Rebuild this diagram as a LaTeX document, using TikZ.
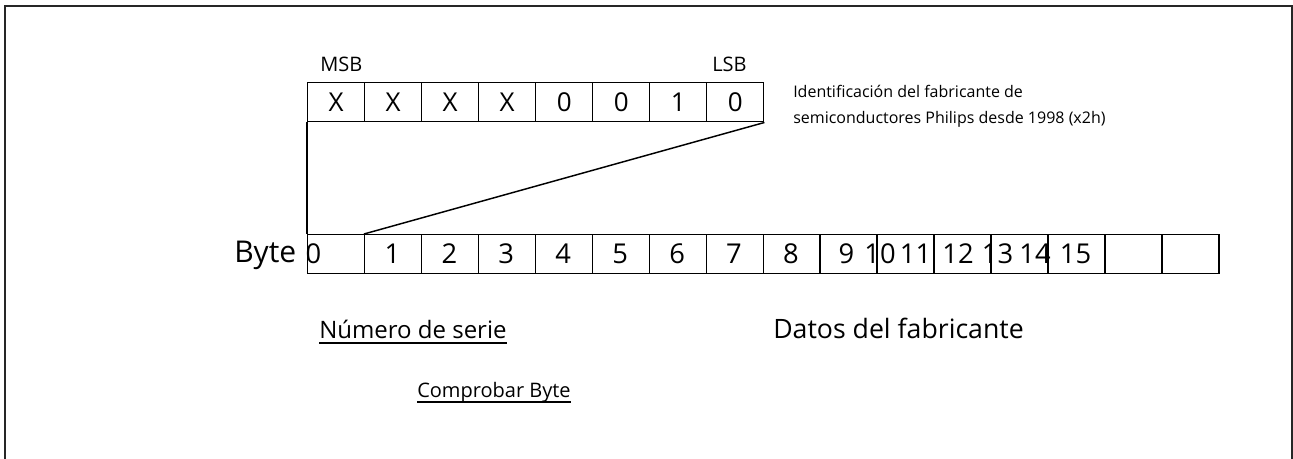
\documentclass[tikz,border=0pt]{standalone}
\usepackage{fontspec}
\setmainfont{Open Sans}
\begin{document}
\begin{tikzpicture}[x=0.75pt,y=-0.75pt,
  cellline/.style={line width=1.1pt},
  bitcell/.style={draw, cellline, rectangle, inner sep=0pt, anchor=north west,
    minimum width=42.75pt, minimum height=29.25pt,
    font=\fontsize{19.5}{20}\selectfont},
  bytecell/.style={draw, cellline, rectangle, inner sep=0pt, anchor=north west,
    minimum width=42.7pt, minimum height=29.25pt},
  bytenum/.style={inner sep=0pt, anchor=base, font=\fontsize{20.5}{22}\selectfont},
  lbl/.style={inner sep=0pt, anchor=base west},
  uline/.style={line width=1.1pt}]
\useasboundingbox (0,0) rectangle (1293,458);
\clip (0,0) rectangle (1293,458);

% outer frame (runs past the lower edge)
\draw[line width=1pt, black!85] (5,6) rectangle (1292,480);

% bit field of the identification byte
\foreach \v [count=\k from 0] in {X,X,X,X,0,0,1,0}
  \node[bitcell] (b\k) at ({307+57*\k},82) {\v};

\node[lbl, font=\fontsize{15}{16}\selectfont] (msb) at (320,71) {MSB};
\node[lbl, font=\fontsize{15}{16}\selectfont] (lsb) at (712,71) {LSB};

\node[lbl, font=\fontsize{12}{13}\selectfont] (id1) at (793,97)
  {Identificación del fabricante de};
\node[lbl, font=\fontsize{12}{13}\selectfont] (id2) at (793,123)
  {semiconductores Philips desde 1998 (x2h)};

% byte row
\foreach \k in {0,...,15}
  \node[bytecell] (c\k) at ({307+56.94*\k},234) {};

\foreach \x [count=\k from 0] in {313.5,392.4,449.4,506.3,563.2,620.2,677.1,734,791,846.5,880,915.5,958,997.5,1035,1075.5}
  \node[bytenum] (n\k) at (\x,263.5) {\k};

\node[lbl, font=\fontsize{22.5}{24}\selectfont] (byte) at (234,262) {Byte};

% connectors from the bit field to the byte row
\draw[cellline] (b0.south west) -- (c0.north west);
\draw[cellline] (b7.south east) -- (c1.north west);

% captions
\node[lbl, font=\fontsize{18}{19}\selectfont] (serie) at (319,338) {Número de serie};
\draw[uline] ([yshift=-3.8pt]serie.base west) -- ([yshift=-3.8pt]serie.base east);

\node[lbl, font=\fontsize{15}{16}\selectfont] (check) at (417,397) {Comprobar Byte};
\draw[uline] ([yshift=-3.8pt]check.base west) -- ([yshift=-3.8pt]check.base east);

\node[lbl, font=\fontsize{20}{21}\selectfont] (datos) at (773,338) {Datos del fabricante};
\end{tikzpicture}
\end{document}
